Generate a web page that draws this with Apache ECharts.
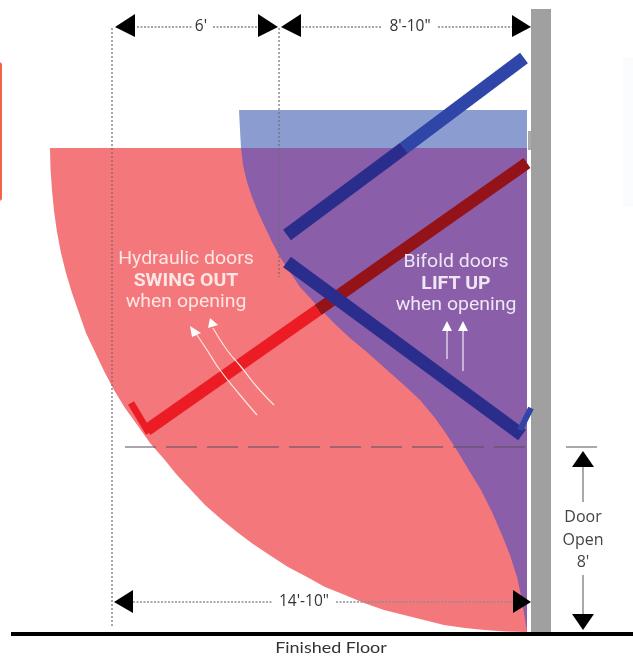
<!DOCTYPE html>
<html>
<head>
<meta charset="utf-8">
<style>html,body{margin:0;padding:0;background:#fff}#c{width:633px;height:656px}</style>
<script src="https://cdn.jsdelivr.net/npm/echarts@6/dist/echarts.min.js"></script>
</head>
<body>
<div id="c"></div>
<script>
// Outlines and runs, in picture units
const swingArcEdge = [[50,148],[50.5,169],[52,190],[54,211],[57,232],[61,253],[66,273],[72,293],[79,313],[86,333],[95,352],[104,371],[114,390],[125,408],[138,426],[150,443],[164,459],[177,475],[191,490],[205,505],[221,519],[237,532],[253,544],[271,556],[288,567],[307,577],[325,587],[345,595],[364,603],[384,610],[404,615],[424,620],[444,625],[465,628],[485,630],[506,631.5],[527,632]];
const swingCorners = [[527,632],[527,148]];
const liftStrip = [[239,110],[527,110],[527,148],[241,148],[240,130]];
const liftEdge = [[241,148],[243,165],[247,182],[252,197],[258,212],[265,227],[272,242],[280,257],[290,272],[300,287],[312,300],[322,311],[335,324],[350,338],[368,353],[387,370],[405,386],[420,400],[435,418],[447,435],[458,452],[470,472],[481,490],[492,512],[502,535],[510,555],[517,577],[522,600],[527,632]];
const liftCorner = [[527,148]];
const wall = [[531,9],[551,9],[551,632],[531,632]];
const wallStub = [[528,131],[531,131],[531,150],[528,150]];
const sideTab = [[0,62],[2,64],[2,199],[0,201]];
const sideCard = [[623,57],[633,57],[633,207],[623,207]];

const bifoldUpperLight = [[524,58],[404,148]];
const bifoldUpperDark = [[404,148],[287,235]];
const bifoldLower = [[287,262],[522,435]];
const bifoldFoot = [[520,430],[531,408]];
const swingDoorDark = [[527,163],[318,310]];
const swingDoorBright = [[318,310],[147,430]];
const swingFoot = [[131,403],[149,433]];

const guideLeft = [[112,28],[112,628]];
const guideMid = [[279,28],[279,277]];
const dimTop = [[[137,27],[192,27]],[[213,27],[258,27]],[[302,27],[382,27]],[[438,27],[513,27]]];
const dimBottom = [[[133,602],[272,602]],[[336,602],[513,602]]];
const openingLine = [[125,447],[527,447]];
const floorLine = [[11,634],[633,634]];
const doorTick = [[566,447],[597,447]];
const doorDim = [[[583,467],[583,502]],[[583,575],[583,614]]];
const arcA = [[197,335],[207,350],[220,370],[240,395],[257,415]];
const arcB = [[213,328],[227,350],[242,368],[257,387],[274,405]];
const liftArrows = [[[447,330],[447,359]],[[463,330],[463,371]]];

const blackHeads = [
  [[115,27],[135,14],[135,37]],[[278,27],[258,14],[258,37]],
  [[281,27],[301,14],[301,37]],[[531,27],[512,15],[512,37]],
  [[114,602],[133,590],[133,613]],[[531,602],[513,590],[513,613]],
  [[583,451],[572,467],[594,467]],[[583,630],[572,614],[594,614]]
];
const whiteHeads = [[[190,326],[201,333],[192,337]],[[210,318],[218,325],[208,328]]];
const liftHeads = [[[447,321],[442,331],[452,331]],[[463,321],[458,331],[468,331]]];

const swingText = ['Hydraulic doors','SWING OUT','when opening'];
const swingTextAt = [[186,259],[186,281],[186,302]];
const liftText = ['Bifold doors','LIFT UP','when opening'];
const liftTextAt = [[456,262],[456,284],[456,305]];
const dimText = ["6'","8'-10\"","14'-10\""];
const dimTextAt = [[201,27],[410,27],[304,602]];
const doorText = ['Door','Open',"8'"];
const doorTextAt = [[583,517],[583,540],[583,562]];
const floorText = ['Finished Floor'];
const floorTextAt = [[331,648]];

let zOrder = 1;
const series = [];
function poly(points, color){
  series.push({type:'custom',coordinateSystem:'cartesian2d',silent:true,clip:false,z:zOrder++,animation:false,
    data:points,
    renderItem(params, api){
      if(params.dataIndex!==0) return null;
      return {type:'polygon',shape:{points:points.map(p=>api.coord(p))},style:{fill:color,stroke:null}};
    }});
}
function run(points, color, width, type, smooth){
  series.push({type:'line',data:points,showSymbol:false,silent:true,clip:false,z:zOrder++,animation:false,smooth:!!smooth,
    lineStyle:{color:color,width:width,type:type||'solid',cap:'butt',join:'round'}});
}
function text(strings, at, font, color, stretch){
  series.push({type:'custom',coordinateSystem:'cartesian2d',silent:true,clip:false,z:zOrder++,animation:false,
    data:at,
    renderItem(params, api){
      const i=params.dataIndex, f=Array.isArray(font)?font[i]:font, c=api.coord(at[i]);
      return {type:'text',x:c[0],y:c[1],scaleX:stretch||1,scaleY:1,
        style:{text:strings[i],x:0,y:0,align:'center',verticalAlign:'middle',font:f,fill:color}};
    }});
}

poly(sideTab,'#F0654A');
poly(sideCard,'#FBFCFD');
poly(swingArcEdge.concat(swingCorners),'#F4777B');
poly(liftStrip,'#8B9DD0');
poly(liftEdge.concat(liftCorner),'#8A5EA9');
poly(wall,'#A0A0A0');
poly(wallStub,'#A9A9A9');

run(swingDoorDark,'#931318',12);
run(swingDoorBright,'#EC1C24',12);
run(swingFoot,'#EC1C24',7);
run(bifoldUpperLight,'#2F46A8',13);
run(bifoldUpperDark,'#2B2D8C',13);
run(bifoldLower,'#2B2D8C',13);
run(bifoldFoot,'#2F46A8',6);

run(guideLeft,'#6E6E6E',1.2,[2,2]);
run(guideMid,'#6E6E6E',1.2,[2,2]);
dimTop.forEach(d=>run(d,'#888888',1.5,[2,1.5]));
dimBottom.forEach(d=>run(d,'#8E8E8E',1.5,[2,1.5]));
run(openingLine,'#55505A',1.2,[31,10]);
run(floorLine,'#000000',4);
run(doorTick,'#555555',1);
doorDim.forEach(d=>run(d,'#555555',1));
run(arcA,'#FCE6E0',1.2,'solid',true);
run(arcB,'#FCE6E0',1.2,'solid',true);
liftArrows.forEach(d=>run(d,'#DCD0E8',1.5));

blackHeads.forEach(h=>poly(h,'#000000'));
whiteHeads.forEach(h=>poly(h,'#FFFFFF'));
liftHeads.forEach(h=>poly(h,'#FFFFFF'));

const R='Roboto, sans-serif';
text(swingText,swingTextAt,['18px '+R,'bold 18px '+R,'18px '+R],'#FDE6E4',1.08);
text(liftText,liftTextAt,['18px '+R,'bold 18px '+R,'18px '+R],'#EFE6F4',1.08);
text(dimText,dimTextAt,'15.5px "Open Sans", sans-serif','#333333',1);
text(doorText,doorTextAt,'16px "Open Sans", sans-serif','#444444',1);
text(floorText,floorTextAt,'16px Lato, sans-serif','#333333',1.12);

const chart = echarts.init(document.getElementById('c'),null,{renderer:'canvas'});
chart.setOption({
  animation:false,
  backgroundColor:'#ffffff',
  grid:{left:0,right:0,top:0,bottom:0},
  xAxis:{type:'value',min:0,max:633,show:false},
  yAxis:{type:'value',min:0,max:656,inverse:true,show:false},
  tooltip:{show:false},
  series:series
});
</script>
</body>
</html>
